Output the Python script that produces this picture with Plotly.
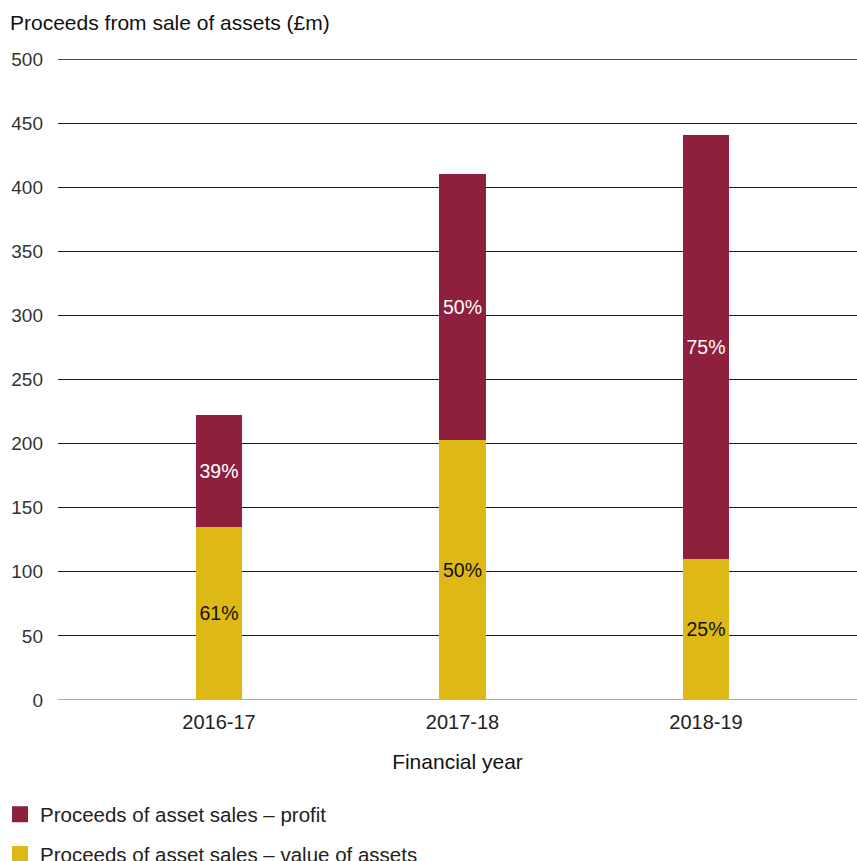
import plotly.graph_objects as go

years = ["2016-17", "2017-18", "2018-19"]
value_of_assets = [135, 203, 110]
profit = [87, 207, 331]
value_pct = ["61%", "50%", "25%"]
profit_pct = ["39%", "50%", "75%"]

MAROON = "#8E1F3D"
GOLD = "#DEB814"
FONT = "Liberation Sans, Arial, sans-serif"
NAME_VALUE = "Proceeds of asset sales – value of assets"
NAME_PROFIT = "Proceeds of asset sales – profit"

fig = go.Figure()
fig.add_trace(go.Bar(
    x=years, y=value_of_assets, name=NAME_VALUE, showlegend=False,
    marker=dict(color=GOLD, line=dict(width=0)), width=0.19,
    text=value_pct, textposition="inside", insidetextanchor="middle",
    textfont=dict(color="#111111", size=19.5, family=FONT),
    hoverinfo="skip",
))
fig.add_trace(go.Bar(
    x=years, y=profit, name=NAME_PROFIT, showlegend=False,
    marker=dict(color=MAROON, line=dict(width=0)), width=0.19,
    text=profit_pct, textposition="inside", insidetextanchor="middle",
    textfont=dict(color="#FFFFFF", size=19.5, family=FONT),
    hoverinfo="skip",
))

# legend entries with larger square swatches
for name, color, grp in [(NAME_PROFIT, MAROON, "b"), (NAME_VALUE, GOLD, "a")]:
    fig.add_trace(go.Scatter(
        x=[None], y=[None], mode="markers", name=name, legendgroup=grp,
        marker=dict(symbol="square", size=16, color=color, line=dict(width=0)),
    ))

fig.update_layout(
    barmode="stack",
    width=857, height=861,
    margin=dict(l=58, r=0, t=59, b=161, autoexpand=False),
    paper_bgcolor="white", plot_bgcolor="white",
    font=dict(family=FONT, color="#222222", size=16),
    showlegend=True,
    legend=dict(
        x=-0.0726, y=-0.1475, xanchor="left", yanchor="top",
        orientation="v", traceorder="grouped", tracegroupgap=10,
        font=dict(size=20.5, color="#222222"), itemwidth=30,
    ),
    xaxis=dict(
        range=[-0.661, 2.62], showgrid=False, zeroline=False, showline=False,
        ticks="", tickfont=dict(size=20, color="#222222"), ticklabelstandoff=8,
        title=dict(text="Financial year", font=dict(size=21, color="#111111"), standoff=22),
    ),
    yaxis=dict(
        range=[0, 500], dtick=50, showgrid=True, gridcolor="#1a1a1a", gridwidth=1,
        zeroline=False, showline=False, ticks="",
        tickfont=dict(size=19, color="#333333"), ticklabelstandoff=14,
        layer="below traces",
    ),
    annotations=[dict(
        text="Proceeds from sale of assets (£m)", xref="paper", yref="paper",
        x=-0.0626, y=1.0577, xanchor="left", yanchor="middle", showarrow=False,
        font=dict(size=21, color="#111111"),
    )],
)
fig.add_hline(y=0, line=dict(color="#888888", width=1.5), layer="below")
fig.add_hline(y=500, line=dict(color="#111111", width=1.5), layer="below")

fig.write_html("out.html")
